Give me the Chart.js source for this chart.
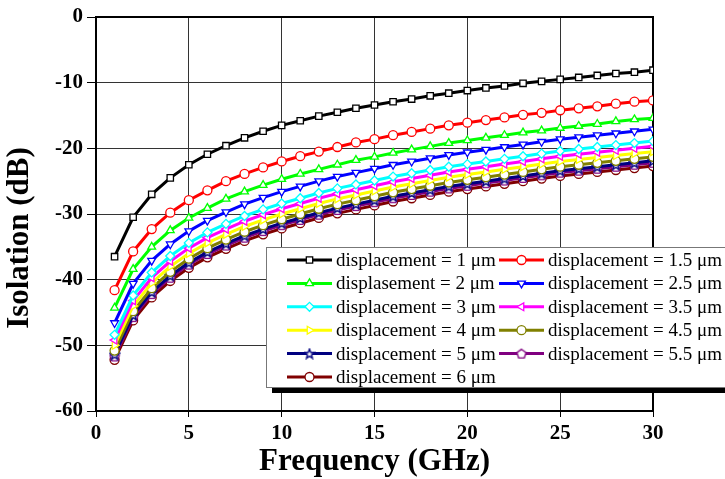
<!DOCTYPE html>
<html>
<head>
<meta charset="utf-8">
<script src="https://cdn.jsdelivr.net/npm/chart.js@4/dist/chart.umd.min.js"></script>
<style>
  body { margin: 0; background: #fff; }
  #wrap { width: 725px; height: 479px; }
</style>
</head>
<body>
<div id="wrap"><canvas id="chart" width="725" height="479"></canvas></div>
<script>
// frequency points (GHz)
const freq = [1, 2, 3, 4, 5, 6, 7, 8, 9, 10, 11, 12, 13, 14, 15, 16, 17, 18, 19, 20, 21, 22, 23, 24, 25, 26, 27, 28, 29, 30];

// isolation (dB), one array per displacement
const iso1 = [-36.5, -30.5, -27.0, -24.5, -22.5, -20.9, -19.6, -18.4, -17.4, -16.5, -15.8, -15.1, -14.5, -13.9, -13.4, -12.9, -12.5, -12.0, -11.6, -11.2, -10.8, -10.5, -10.1, -9.8, -9.5, -9.2, -8.9, -8.6, -8.4, -8.1];
const iso15 = [-41.6, -35.7, -32.3, -29.8, -27.9, -26.4, -25.0, -23.9, -22.9, -22.0, -21.2, -20.5, -19.8, -19.1, -18.6, -18.0, -17.5, -17.0, -16.5, -16.1, -15.7, -15.3, -14.9, -14.6, -14.2, -13.9, -13.6, -13.2, -12.9, -12.7];
const iso2 = [-44.3, -38.4, -35.0, -32.5, -30.6, -29.1, -27.7, -26.6, -25.6, -24.7, -23.9, -23.2, -22.5, -21.8, -21.3, -20.7, -20.2, -19.7, -19.2, -18.8, -18.4, -18.0, -17.6, -17.3, -16.9, -16.6, -16.3, -15.9, -15.6, -15.4];
const iso25 = [-46.6, -40.6, -37.1, -34.6, -32.6, -31.0, -29.7, -28.5, -27.5, -26.6, -25.8, -25.0, -24.3, -23.7, -23.1, -22.5, -22.0, -21.5, -21.0, -20.6, -20.2, -19.8, -19.4, -19.0, -18.6, -18.3, -18.0, -17.7, -17.4, -17.1];
const iso3 = [-48.4, -42.4, -38.9, -36.4, -34.4, -32.8, -31.5, -30.3, -29.3, -28.4, -27.6, -26.8, -26.1, -25.5, -24.9, -24.3, -23.8, -23.3, -22.8, -22.4, -22.0, -21.6, -21.2, -20.8, -20.4, -20.1, -19.8, -19.5, -19.2, -18.9];
const iso35 = [-49.2, -43.2, -39.7, -37.2, -35.2, -33.6, -32.3, -31.1, -30.1, -29.2, -28.4, -27.6, -26.9, -26.3, -25.7, -25.1, -24.6, -24.1, -23.6, -23.2, -22.8, -22.4, -22.0, -21.6, -21.2, -20.9, -20.6, -20.3, -20.0, -19.7];
const iso4 = [-50.0, -44.0, -40.5, -38.0, -36.0, -34.4, -33.1, -31.9, -30.9, -30.0, -29.2, -28.4, -27.7, -27.1, -26.5, -25.9, -25.4, -24.9, -24.4, -24.0, -23.6, -23.2, -22.8, -22.4, -22.0, -21.7, -21.4, -21.1, -20.8, -20.5];
const iso45 = [-50.8, -44.8, -41.3, -38.8, -36.8, -35.2, -33.9, -32.7, -31.7, -30.8, -30.0, -29.2, -28.5, -27.9, -27.3, -26.7, -26.2, -25.7, -25.2, -24.8, -24.4, -24.0, -23.6, -23.2, -22.8, -22.5, -22.2, -21.9, -21.6, -21.3];
const iso5 = [-51.4, -45.4, -41.9, -39.4, -37.4, -35.8, -34.5, -33.3, -32.3, -31.4, -30.6, -29.8, -29.1, -28.5, -27.9, -27.3, -26.8, -26.3, -25.8, -25.4, -25.0, -24.6, -24.2, -23.8, -23.4, -23.1, -22.8, -22.5, -22.2, -21.9];
const iso55 = [-51.7, -45.7, -42.2, -39.7, -37.7, -36.1, -34.8, -33.6, -32.6, -31.7, -30.9, -30.1, -29.4, -28.8, -28.2, -27.6, -27.1, -26.6, -26.1, -25.7, -25.3, -24.9, -24.5, -24.1, -23.7, -23.4, -23.1, -22.8, -22.5, -22.2];
const iso6 = [-52.2, -46.2, -42.7, -40.2, -38.2, -36.6, -35.3, -34.1, -33.1, -32.2, -31.4, -30.6, -29.9, -29.3, -28.7, -28.1, -27.6, -27.1, -26.6, -26.2, -25.8, -25.4, -25.0, -24.6, -24.2, -23.9, -23.6, -23.3, -23.0, -22.7];

const seriesLabels = [
    'displacement = 1 \u03bcm', 'displacement = 1.5 \u03bcm',
    'displasement = 2 \u03bcm', 'displacement = 2.5 \u03bcm',
    'displacement = 3 \u03bcm', 'displacement = 3.5 \u03bcm',
    'displacement = 4 \u03bcm', 'displacement = 4.5 \u03bcm',
    'displacement = 5 \u03bcm', 'displacement = 5.5 \u03bcm',
    'displacement = 6 \u03bcm'
];
const seriesValues = [iso1, iso15, iso2, iso25, iso3, iso35, iso4, iso45, iso5, iso55, iso6];
const seriesColors = ['#000000', '#ff0000', '#00ff00', '#0000ff', '#00ffff', '#ff00ff', '#ffff00', '#808000', '#000080', '#800080', '#800000'];

const xTicks = [0, 5, 10, 15, 20, 25, 30];
const yTicks = [0, -10, -20, -30, -40, -50, -60];

// hollow star / pentagon markers drawn into small canvases
function polyMarker(color, kind) {
    const c = document.createElement('canvas');
    c.width = 12; c.height = 12;
    const g = c.getContext('2d');
    g.beginPath();
    const n = kind === 'star' ? 10 : 5;
    for (let i = 0; i < n; i++) {
        const a = -Math.PI / 2 + i * 2 * Math.PI / n;
        const r = kind === 'star' ? (i % 2 ? 2.2 : 5) : 4.8;
        const px = 6 + r * Math.cos(a), py = 6.5 + r * Math.sin(a);
        i ? g.lineTo(px, py) : g.moveTo(px, py);
    }
    g.closePath();
    g.fillStyle = '#fff';
    g.fill();
    g.strokeStyle = color;
    g.lineWidth = 1.4;
    g.stroke();
    return c;
}

const markers = [
    { style: 'rect', rot: 0 }, { style: 'circle', rot: 0 },
    { style: 'triangle', rot: 0 }, { style: 'triangle', rot: 180 },
    { style: 'rectRot', rot: 0 }, { style: 'triangle', rot: -90 },
    { style: 'triangle', rot: 90 }, { style: 'circle', rot: 0 },
    { style: polyMarker(seriesColors[8], 'star'), rot: 0 },
    { style: polyMarker(seriesColors[9], 'pent'), rot: 0 },
    { style: 'circle', rot: 0 }
];

const datasets = seriesValues.map((vals, i) => ({
    label: seriesLabels[i],
    data: freq.map((f, j) => ({ x: f, y: vals[j] })),
    borderColor: seriesColors[i],
    backgroundColor: '#ffffff',
    borderWidth: 3,
    pointStyle: markers[i].style,
    rotation: markers[i].rot,
    pointRadius: 4.5,
    pointBorderWidth: 1.3,
    pointBackgroundColor: '#ffffff',
    pointBorderColor: seriesColors[i],
    tension: 0
}));

const serif = '"Liberation Serif", "Times New Roman", serif';

const framePlugin = {
    id: 'frame',
    beforeDatasetsDraw(chart) {
        const { ctx, chartArea: a } = chart;
        ctx.save();
        ctx.strokeStyle = '#000';
        ctx.lineWidth = 2;
        ctx.strokeRect(a.left, a.top, a.right - a.left, a.bottom - a.top);
        ctx.restore();
    },
    afterDraw(chart) {
        const { ctx, chartArea: a } = chart;
        ctx.save();
        // axis titles
        ctx.fillStyle = '#000';
        ctx.font = 'bold 31px ' + serif;
        ctx.textAlign = 'center';
        ctx.textBaseline = 'middle';
        ctx.fillText('Frequency (GHz)', (a.left + a.right) / 2, 462);
        ctx.translate(20, 238);
        ctx.rotate(-Math.PI / 2);
        ctx.fillText('Isolation (dB)', 0, 0);
        ctx.restore();

        // legend box with drop shadow
        ctx.save();
        const bx = 266, by = 247, bw = 470, bh = 140;
        ctx.fillStyle = '#000';
        ctx.fillRect(bx + 6, by + 6, bw, bh);
        ctx.fillStyle = '#fff';
        ctx.fillRect(bx, by, bw, bh);
        ctx.strokeStyle = '#777';
        ctx.lineWidth = 1;
        ctx.strokeRect(bx + 0.5, by + 0.5, bw, bh);
        ctx.font = '19px ' + serif;
        ctx.textAlign = 'left';
        ctx.textBaseline = 'middle';
        chart.data.datasets.forEach((ds, i) => {
            const col = i % 2, row = Math.floor(i / 2);
            const x0 = col ? 499 : 287;
            const y = 260 + row * 23.4;
            ctx.strokeStyle = ds.borderColor;
            ctx.lineWidth = 3;
            ctx.beginPath();
            ctx.moveTo(x0, y);
            ctx.lineTo(x0 + 45, y);
            ctx.stroke();
            ctx.fillStyle = '#fff';
            ctx.lineWidth = 1.3;
            ctx.strokeStyle = ds.borderColor;
            Chart.helpers.drawPoint(ctx, {
                pointStyle: ds.pointStyle,
                rotation: ds.rotation,
                radius: 4.5,
                borderWidth: 1.3
            }, x0 + 22.5, y);
            ctx.fillStyle = '#000';
            ctx.fillText(ds.label, x0 + 49, y + 1);
        });
        ctx.restore();
    }
};

new Chart(document.getElementById('chart'), {
    type: 'line',
    data: { datasets: datasets },
    options: {
        responsive: false,
        animation: false,
        layout: { padding: { left: 0, right: 72, top: 17, bottom: 0 } },
        plugins: {
            legend: { display: false },
            tooltip: { enabled: false }
        },
        scales: {
            x: {
                type: 'linear',
                min: 0,
                max: 30,
                afterFit: s => { s.height = 68; },
                afterBuildTicks: s => { s.ticks = xTicks.map(v => ({ value: v })); },
                grid: { color: '#333', lineWidth: 1, tickLength: 6, tickColor: '#000' },
                border: { color: '#000', width: 2 },
                ticks: {
                    color: '#000',
                    padding: 4,
                    font: { family: serif, size: 21, weight: 'bold' }
                }
            },
            y: {
                min: -60,
                max: 0,
                afterFit: s => { s.width = 96; },
                afterBuildTicks: s => { s.ticks = yTicks.map(v => ({ value: v })); },
                grid: { color: '#333', lineWidth: 1, tickLength: 9, tickColor: '#000' },
                border: { color: '#000', width: 2 },
                ticks: {
                    color: '#000',
                    padding: 4,
                    font: { family: serif, size: 21, weight: 'bold' }
                }
            }
        }
    },
    plugins: [framePlugin]
});
</script>
</body>
</html>
